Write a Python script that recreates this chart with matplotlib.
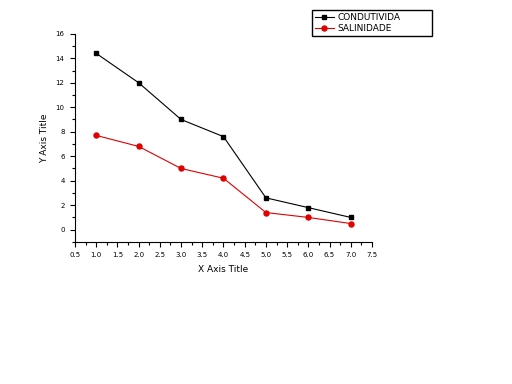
import matplotlib
matplotlib.use("Agg")
import matplotlib.pyplot as plt
from matplotlib.ticker import MultipleLocator

x = [1, 2, 3, 4, 5, 6, 7]
condutividade = [14.4, 12.0, 9.0, 7.6, 2.6, 1.8, 1.0]
salinidade = [7.7, 6.8, 5.0, 4.2, 1.4, 1.0, 0.5]
labels = ["CONDUTIVIDA", "SALINIDADE"]


def main():
    fig = plt.figure(figsize=(5.12, 3.84), dpi=100)
    ax = fig.add_axes([0.1465, 0.370, 0.580, 0.542])

    l1, = ax.plot(x, condutividade, color="black", marker="s", markersize=3.2, lw=0.8)
    l2, = ax.plot(x, salinidade, color="#e00000", marker="o", markersize=3.6, lw=0.8)

    ax.set_xlim(0.5, 7.5)
    ax.set_ylim(-1, 16)
    ax.xaxis.set_major_locator(MultipleLocator(0.5))
    ax.xaxis.set_minor_locator(MultipleLocator(0.25))
    ax.yaxis.set_minor_locator(MultipleLocator(1))
    ax.set_yticks(range(0, 17, 2))

    for s in ["top", "right"]:
        ax.spines[s].set_visible(False)
    ax.spines["left"].set_linewidth(0.8)
    ax.spines["bottom"].set_linewidth(0.8)
    ax.tick_params(which="major", length=3.5, width=0.8, labelsize=5, pad=4)
    ax.tick_params(which="minor", length=2, width=0.8)

    ax.set_xlabel("X Axis Title", fontsize=6.5, labelpad=5)
    ax.set_ylabel("Y Axis Title", fontsize=6.5, labelpad=5)

    # legend box stretched to the width of the original
    fig.legend([l1, l2], labels, loc="upper left", mode="expand",
               bbox_to_anchor=(0.609, 0.901, 0.234, 0.073),
               fontsize=6.5, fancybox=False, edgecolor="black", framealpha=1,
               handlelength=2.2, borderpad=0.3, labelspacing=0.25, handletextpad=0.3,
               borderaxespad=0)

    fig.savefig("out.png", dpi=100)


if __name__ == '__main__':
    main()
